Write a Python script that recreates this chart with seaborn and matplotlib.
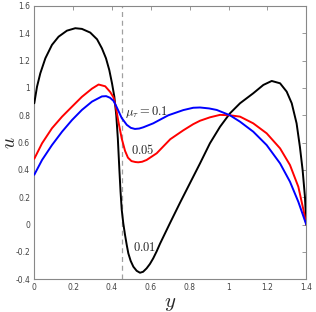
"""
Velocity profiles u(y) for three values of mu_tau, MATLAB-like framed axes.
"""

import numpy as np
import pandas as pd
import matplotlib
matplotlib.use("Agg")
import matplotlib.pyplot as plt
import seaborn as sns

# values
y_001 = [0.0, 0.014, 0.031, 0.057, 0.091, 0.125, 0.168, 0.211, 0.245, 0.288,
         0.323, 0.348, 0.369, 0.386, 0.40, 0.412, 0.422, 0.43, 0.438, 0.444,
         0.45, 0.458, 0.467, 0.476, 0.484, 0.496, 0.51, 0.527, 0.544, 0.56,
         0.578, 0.595, 0.612, 0.63, 0.647, 0.698, 0.75, 0.8, 0.853, 0.904,
         0.956, 1.007, 1.059, 1.127, 1.179, 1.222, 1.265, 1.299, 1.325, 1.35,
         1.367, 1.381, 1.393, 1.4]
u_001 = [0.888, 1.009, 1.107, 1.217, 1.315, 1.375, 1.419, 1.437, 1.432, 1.405,
         1.356, 1.29, 1.217, 1.131, 1.034, 0.936, 0.80, 0.63, 0.40, 0.24,
         0.11, 0.01, -0.075, -0.15, -0.21, -0.265, -0.308, -0.338, -0.352, -0.345,
         -0.32, -0.288, -0.247, -0.195, -0.14, 0.01, 0.16, 0.30, 0.448, 0.595,
         0.716, 0.814, 0.888, 0.961, 1.022, 1.051, 1.034, 0.973, 0.888, 0.741,
         0.57, 0.40, 0.204, 0.0]

y_005 = [0.0, 0.04, 0.091, 0.143, 0.194, 0.245, 0.297, 0.331, 0.365, 0.391,
         0.408, 0.42, 0.432, 0.45, 0.467, 0.482, 0.50, 0.52, 0.535, 0.555,
         0.578, 0.63, 0.70, 0.767, 0.818, 0.853, 0.904, 0.956, 1.007, 1.059,
         1.127, 1.196, 1.265, 1.316, 1.359, 1.385, 1.4]
u_005 = [0.482, 0.595, 0.705, 0.79, 0.863, 0.935, 0.995, 1.025, 1.012, 0.97,
         0.93, 0.86, 0.76, 0.63, 0.54, 0.49, 0.465, 0.458, 0.456, 0.46,
         0.473, 0.522, 0.625, 0.69, 0.735, 0.76, 0.785, 0.803, 0.80, 0.79,
         0.741, 0.668, 0.558, 0.436, 0.277, 0.11, 0.0]

y_01 = [0.0, 0.04, 0.091, 0.143, 0.194, 0.245, 0.297, 0.348, 0.37, 0.39,
        0.408, 0.424, 0.45, 0.476, 0.497, 0.518, 0.54, 0.561, 0.612, 0.69,
        0.767, 0.818, 0.853, 0.9, 0.939, 1.007, 1.059, 1.127, 1.196, 1.265,
        1.316, 1.359, 1.4]
u_01 = [0.365, 0.473, 0.582, 0.68, 0.765, 0.839, 0.90, 0.938, 0.94, 0.928,
        0.905, 0.86, 0.78, 0.73, 0.708, 0.70, 0.703, 0.712, 0.741, 0.80,
        0.838, 0.855, 0.857, 0.85, 0.839, 0.80, 0.753, 0.68, 0.582, 0.448,
        0.314, 0.167, 0.0]

series_names = ["0.01", "0.05", "0.1"]
series_colors = ["black", "red", "blue"]
label_texts = [r"$0.01$", r"$0.05$", r"$\mu_\tau = 0.1$"]
label_pos = [(0.51, -0.17), (0.50, 0.546), (0.467, 0.826)]

dashed_y = 0.45
x_ticks = [0, 0.2, 0.4, 0.6, 0.8, 1, 1.2, 1.4]
x_tick_labels = ["0", "0.2", "0.4", "0.6", "0.8", "1", "1.2", "1.4"]
y_ticks = [-0.4, -0.2, 0, 0.2, 0.4, 0.6, 0.8, 1, 1.2, 1.4, 1.6]
y_tick_labels = ["-0.4", "-0.2", "0", "0.2", "0.4", "0.6", "0.8", "1",
                 "1.2", "1.4", "1.6"]

frames = []
for name, ys, us in zip(series_names, [y_001, y_005, y_01], [u_001, u_005, u_01]):
    frames.append(pd.DataFrame({"y": ys, "u": us, "mu": name}))
df = pd.concat(frames, ignore_index=True)

sns.set_style("white")
plt.rcParams["mathtext.fontset"] = "cm"
plt.rcParams["font.family"] = ["DejaVu Sans"]

fig = plt.figure(figsize=(3.16, 3.12), dpi=100)
ax = fig.add_axes([0.1085, 0.1048, 0.8608, 0.8762])

ax.axvline(dashed_y, color="#a0a0a0", lw=0.9, ls=(0, (4, 3)), zorder=1)

sns.lineplot(data=df, x="y", y="u", hue="mu",
             palette=dict(zip(series_names, series_colors)),
             estimator=None, sort=False, lw=1.4, legend=False, ax=ax,
             zorder=3, solid_joinstyle="round", solid_capstyle="round")

for txt, (tx, ty) in zip(label_texts, label_pos):
    ax.text(tx, ty, txt, ha="left", va="center", fontsize=9, color="#222222")

ax.set_xlim(0, 1.4)
ax.set_ylim(-0.4, 1.6)
ax.set_xticks(x_ticks)
ax.set_xticklabels(x_tick_labels)
ax.set_yticks(y_ticks)
ax.set_yticklabels(y_tick_labels)
ax.tick_params(direction="in", length=3, width=0.6, top=True, right=True,
               labelsize=5.5, labelcolor="#444444", color="#888888", pad=3)

for sp in ax.spines.values():
    sp.set_color("#888888")
    sp.set_linewidth(0.8)

ax.set_xlabel("$y$", fontsize=15)
ax.set_ylabel("$u$", fontsize=14)
ax.xaxis.set_label_coords(0.5, -0.05)
ax.yaxis.set_label_coords(-0.058, 0.5)

fig.savefig("out.png", dpi=100)
